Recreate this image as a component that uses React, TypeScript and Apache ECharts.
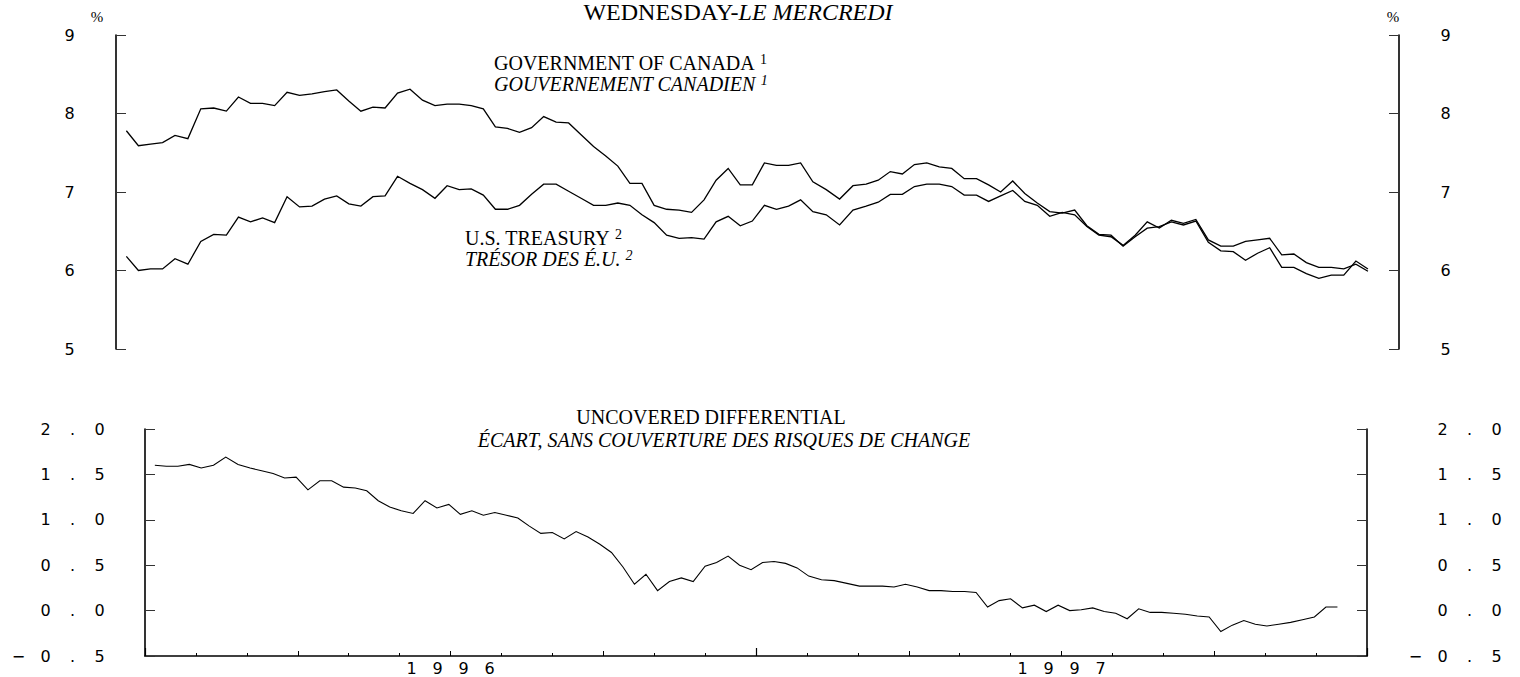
import React, { useEffect, useRef } from "react";
import * as echarts from "echarts";

// Weekly observations, first week of the series
const FIRST_WEEK = "1996-01-07";

// Government of Canada long-term bond yield (%)
const canada = [
  7.78, 7.59, 7.61, 7.63, 7.72, 7.68, 8.06, 8.07, 8.03, 8.21,
  8.13, 8.13, 8.10, 8.27, 8.23, 8.25, 8.28, 8.30, 8.16, 8.03,
  8.08, 8.07, 8.26, 8.31, 8.17, 8.10, 8.12, 8.12, 8.10, 8.06,
  7.83, 7.81, 7.76, 7.82, 7.96, 7.89, 7.88, 7.73, 7.58, 7.46,
  7.33, 7.11, 7.11, 6.83, 6.78, 6.77, 6.74, 6.90, 7.15, 7.30,
  7.09, 7.09, 7.37, 7.34, 7.34, 7.37, 7.13, 7.03, 6.91, 7.08,
  7.10, 7.15, 7.26, 7.23, 7.35, 7.37, 7.32, 7.30, 7.17, 7.17,
  7.09, 7.00, 7.14, 6.98, 6.86, 6.75, 6.73, 6.77, 6.57, 6.46,
  6.45, 6.31, 6.43, 6.54, 6.56, 6.62, 6.58, 6.63, 6.36, 6.25,
  6.24, 6.13, 6.22, 6.29, 6.04, 6.04, 5.96, 5.90, 5.94, 5.94,
  6.12, 6.02,
];

// U.S. Treasury long-term bond yield (%)
const us = [
  6.18, 6.00, 6.02, 6.02, 6.15, 6.08, 6.37, 6.46, 6.45, 6.68,
  6.62, 6.67, 6.61, 6.94, 6.81, 6.82, 6.91, 6.95, 6.85, 6.82,
  6.94, 6.95, 7.20, 7.11, 7.03, 6.92, 7.08, 7.03, 7.04, 6.96,
  6.78, 6.78, 6.83, 6.97, 7.10, 7.10, 7.01, 6.92, 6.83, 6.83,
  6.86, 6.83, 6.71, 6.61, 6.45, 6.41, 6.42, 6.40, 6.62, 6.69,
  6.57, 6.63, 6.83, 6.78, 6.82, 6.90, 6.75, 6.71, 6.58, 6.77,
  6.82, 6.87, 6.97, 6.97, 7.07, 7.10, 7.10, 7.07, 6.96, 6.96,
  6.88, 6.95, 7.02, 6.88, 6.83, 6.69, 6.74, 6.71, 6.56, 6.45,
  6.43, 6.32, 6.45, 6.62, 6.54, 6.64, 6.60, 6.65, 6.39, 6.31,
  6.31, 6.37, 6.39, 6.41, 6.20, 6.21, 6.10, 6.04, 6.04, 6.02,
  6.08, 5.99,
];

// Uncovered differential (percentage points)
const differential = [
  1.60, 1.59, 1.59, 1.61, 1.57, 1.60, 1.69, 1.61, 1.57, 1.54,
  1.51, 1.46, 1.47, 1.33, 1.43, 1.43, 1.36, 1.35, 1.32, 1.21,
  1.14, 1.10, 1.07, 1.21, 1.13, 1.17, 1.06, 1.10, 1.05, 1.08,
  1.05, 1.02, 0.93, 0.85, 0.86, 0.79, 0.87, 0.81, 0.73, 0.64,
  0.48, 0.29, 0.40, 0.22, 0.32, 0.36, 0.32, 0.49, 0.53, 0.60,
  0.50, 0.45, 0.53, 0.54, 0.52, 0.47, 0.38, 0.34, 0.33, 0.30,
  0.27, 0.27, 0.27, 0.26, 0.29, 0.26, 0.22, 0.22, 0.21, 0.21,
  0.20, 0.04, 0.11, 0.13, 0.03, 0.06, -0.01, 0.06, 0.00, 0.01,
  0.03, -0.01, -0.03, -0.09, 0.02, -0.02, -0.02, -0.03, -0.04, -0.06,
  -0.07, -0.23, -0.16, -0.11, -0.15, -0.17, -0.15, -0.13, -0.10, -0.07,
  0.04, 0.04,
];

// Axis: months counted from January 1996; year labels sit mid-year
const AXIS_START_YEAR = 1996;
const AXIS_MONTHS = 24;
const yearTickMonths = [6, 18];
const yearNames = ["1996", "1997"];

const SERIF = "'Liberation Serif', 'Times New Roman', serif";
const SANS = "'DejaVu Sans', 'Liberation Sans', sans-serif";

function monthPosition(d: Date): number {
  const y = d.getUTCFullYear();
  const m = d.getUTCMonth();
  const dim = new Date(Date.UTC(y, m + 1, 0)).getUTCDate();
  return (y - AXIS_START_YEAR) * 12 + m + (d.getUTCDate() - 1) / dim;
}

const weekPositions: number[] = canada.map((_, i) => {
  const d = new Date(FIRST_WEEK + "T00:00:00Z");
  d.setUTCDate(d.getUTCDate() + 7 * i);
  return monthPosition(d);
});

const spaced = (s: string) =>
  s
    .split("")
    .map((ch) => `{c|${ch}}`)
    .join("");

const labelRich = {
  c: {
    width: 27,
    align: "center",
    fontSize: 16,
    fontFamily: SANS,
    color: "#000",
  },
};

const yearRich = {
  c: {
    width: 26,
    align: "center",
    fontSize: 16,
    fontFamily: SANS,
    color: "#000",
  },
};

const fmtDec = (v: number) => v.toFixed(1).replace("-", "\u2212");

const noteRich = (italic: boolean) => ({
  t: {
    fontFamily: SERIF,
    fontSize: 20,
    fontStyle: italic ? "italic" : "normal",
    color: "#000",
    lineHeight: 22,
  },
  s: {
    fontFamily: SERIF,
    fontSize: 14,
    fontStyle: italic ? "italic" : "normal",
    color: "#000",
    verticalAlign: "top",
    lineHeight: 14,
  },
});

export default function App() {
  const ref = useRef<HTMLDivElement>(null);

  useEffect(() => {
    if (!ref.current) return;
    const chart = echarts.init(ref.current, undefined, { renderer: "svg" });

    const axisLine = { show: true, onZero: false, lineStyle: { color: "#000", width: 1.6 } };
    const tickStyle = { color: "#333", width: 1 };

    const topY = (position: "left" | "right") => ({
      type: "value",
      gridIndex: 0,
      position,
      min: 5,
      max: 9,
      interval: 1,
      axisLine,
      axisTick: { show: true, inside: true, length: 10, lineStyle: tickStyle },
      splitLine: { show: false },
      axisLabel: {
        margin: 33,
        align: position === "left" ? "right" : "left",
        formatter: (v: number) => spaced(String(v)),
        rich: labelRich,
      },
    });

    const botY = (position: "left" | "right") => ({
      type: "value",
      gridIndex: 1,
      position,
      min: -0.5,
      max: 2.0,
      interval: 0.5,
      axisLine,
      axisTick: { show: true, inside: true, length: 10, lineStyle: tickStyle },
      splitLine: { show: false },
      axisLabel: {
        margin: position === "left" ? 32 : 143,
        align: "right",
        formatter: (v: number) => spaced(fmtDec(v)),
        rich: labelRich,
      },
    });

    const lineSeries = (data: number[], xi: number, yi: number, w: number) => ({
      type: "line",
      xAxisIndex: xi,
      yAxisIndex: yi,
      data: data.map((v, i) => [weekPositions[i], v]),
      symbol: "none",
      silent: true,
      lineStyle: { color: "#000", width: w, join: "miter" },
    });

    const text = (
      x: number,
      y: number,
      content: string,
      opts: { size: number; italic?: boolean; align?: string }
    ) => ({
      type: "text",
      x,
      y,
      silent: true,
      style: {
        text: content,
        fill: "#000",
        fontFamily: SERIF,
        fontSize: opts.size,
        fontStyle: opts.italic ? "italic" : "normal",
        align: opts.align || "left",
        verticalAlign: "middle",
      },
    });

    const note = (x: number, y: number, label: string, mark: string, italic: boolean) => ({
      type: "text",
      x,
      y,
      silent: true,
      style: {
        text: `{t|${label} }{s|${mark}}`,
        align: "left",
        verticalAlign: "middle",
        rich: noteRich(italic),
      },
    });

    chart.setOption({
      animation: false,
      backgroundColor: "#fff",
      grid: [
        { left: 116, top: 35, width: 1283, height: 314 },
        { left: 145, top: 429, width: 1222, height: 227 },
      ],
      xAxis: [
        { type: "value", gridIndex: 0, min: 0, max: AXIS_MONTHS, show: false },
        {
          type: "value",
          gridIndex: 1,
          position: "bottom",
          min: 0,
          max: AXIS_MONTHS,
          interval: 3,
          axisLine,
          axisTick: { show: true, inside: true, length: 5, lineStyle: { color: "#000", width: 1 } },
          minorTick: { show: true, splitNumber: 3, length: 3, lineStyle: { color: "#000", width: 1 } },
          splitLine: { show: false },
          minorSplitLine: { show: false },
          axisLabel: {
            margin: 4,
            formatter: (v: number) => {
              const k = yearTickMonths.indexOf(v);
              return k >= 0 ? spaced(yearNames[k]) : "";
            },
            rich: yearRich,
          },
        },
        {
          type: "value",
          gridIndex: 1,
          position: "bottom",
          min: 0,
          max: AXIS_MONTHS,
          interval: 12,
          axisLine: { show: false, onZero: false },
          axisTick: { show: true, inside: true, length: 8, lineStyle: { color: "#000", width: 1.2 } },
          splitLine: { show: false },
          axisLabel: { show: false },
        },
      ],
      yAxis: [topY("left"), topY("right"), botY("left"), botY("right")],
      series: [
        lineSeries(canada, 0, 0, 1.3),
        lineSeries(us, 0, 0, 1.3),
        lineSeries(differential, 1, 2, 1.1),
      ],
      graphic: [
        {
          type: "text",
          x: 738,
          y: 12,
          silent: true,
          style: {
            text: "{n|WEDNESDAY-}{i|LE MERCREDI}",
            align: "center",
            verticalAlign: "middle",
            rich: {
              n: { fontFamily: SERIF, fontSize: 24, color: "#000" },
              i: { fontFamily: SERIF, fontSize: 24, fontStyle: "italic", color: "#000" },
            },
          },
        },
        text(97, 17, "%", { size: 15, align: "center" }),
        text(1393, 17, "%", { size: 15, align: "center" }),
        note(494, 63, "GOVERNMENT OF CANADA", "1", false),
        note(494, 84, "GOUVERNEMENT CANADIEN", "1", true),
        note(465, 238, "U.S. TREASURY", "2", false),
        note(465, 259, "TR\u00c9SOR DES \u00c9.U.", "2", true),
        text(711, 417, "UNCOVERED DIFFERENTIAL", { size: 20, align: "center" }),
        text(724, 440, "\u00c9CART, SANS COUVERTURE DES RISQUES DE CHANGE", {
          size: 20,
          italic: true,
          align: "center",
        }),
      ],
    });

    return () => chart.dispose();
  }, []);

  return (
    <div
      ref={ref}
      style={{ position: "absolute", left: 0, top: 0, width: 1520, height: 677 }}
    />
  );
}
